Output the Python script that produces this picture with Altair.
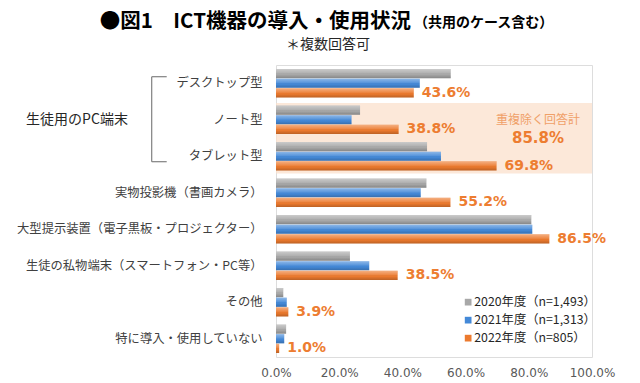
import altair as alt
import pandas as pd

categories = [
    "デスクトップ型",
    "ノート型",
    "タブレット型",
    "実物投影機（書画カメラ）",
    "大型提示装置（電子黒板・プロジェクター）",
    "生徒の私物端末（スマートフォン・PC等）",
    "その他",
    "特に導入・使用していない",
]
series = ["2020年度（n=1,493）", "2021年度（n=1,313）", "2022年度（n=805）"]
v2020 = [55.3, 26.6, 47.8, 47.6, 80.8, 23.4, 2.3, 3.2]
v2021 = [45.5, 23.9, 52.2, 45.8, 81.1, 29.5, 3.4, 2.6]
v2022 = [43.6, 38.8, 69.8, 55.2, 86.5, 38.5, 3.9, 1.0]
colors = ["#a8a8a8", "#4489d8", "#ec7a2e"]
x_ticks = [0, 20, 40, 60, 80, 100]

title_main = "●図1\u3000ICT機器の導入・使用状況"
title_sub = "（共用のケース含む）"
note = "＊複数回答可"
group_label = "生徒用のPC端末"
dedup_label = "重複除く回答計"
dedup_value = "85.8%"

rows = []
for s, vals in zip(series, [v2020, v2021, v2022]):
    for c, v in zip(categories, vals):
        rows.append({"cat": c, "series": s, "value": v, "label": f"{v:.1f}%"})
df = pd.DataFrame(rows)

JP = "Noto Sans CJK JP"
NUM = "DejaVu Sans"

y_enc = alt.Y(
    "cat:N",
    sort=categories,
    scale=alt.Scale(paddingInner=0.22, paddingOuter=0.11),
    axis=alt.Axis(
        title=None, ticks=False, domain=False, labelFont=JP, labelFontSize=12.3,
        labelColor="#404040", labelPadding=14, labelLimit=300,
    ),
)
yoff_enc = alt.YOffset("series:N", sort=series, scale=alt.Scale(paddingInner=0.05))
x_enc = alt.X(
    "value:Q",
    scale=alt.Scale(domain=[0, 100], nice=False),
    axis=alt.Axis(
        title=None, values=x_ticks, ticks=False, domain=False,
        labelExpr="format(datum.value, '.1f') + '%'",
        labelFont=NUM, labelFontSize=12, labelColor="#595959", labelPadding=10,
        labelOverlap=False, labelFlush=False, labelBound=False,
        gridColor="#d9d9d9", gridWidth=1,
    ),
)

box = alt.Chart(pd.DataFrame({"a": [0]})).mark_rect(
    color="#fbe0cc", opacity=0.75
).encode(
    x=alt.datum(0), x2=alt.datum(100), y=alt.value(38), y2=alt.value(108.5)
)

bars = alt.Chart(df).mark_bar().encode(
    x=x_enc,
    y=y_enc,
    yOffset=yoff_enc,
    color=alt.Color(
        "series:N",
        sort=series,
        scale=alt.Scale(domain=series, range=colors),
        legend=alt.Legend(
            title=None, orient="none", legendX=186, legendY=231,
            symbolType="square", symbolSize=45, symbolStrokeWidth=0,
            labelFont=JP, labelFontSize=12.3, labelColor="#262626",
            labelOffset=0, rowPadding=5, padding=0,
        ),
    ),
)

sheen = alt.Gradient(
    gradient="linear",
    stops=[
        alt.GradientStop(color="rgba(255,255,255,0.4)", offset=0),
        alt.GradientStop(color="rgba(255,255,255,0.1)", offset=0.45),
        alt.GradientStop(color="rgba(0,0,0,0.0)", offset=0.6),
        alt.GradientStop(color="rgba(0,0,0,0.2)", offset=1),
    ],
    x1=0, x2=0, y1=0, y2=1,
)
bars_sheen = alt.Chart(df).mark_bar(fill=sheen).encode(
    x="value:Q", y=alt.Y("cat:N", sort=categories), yOffset=yoff_enc
)

labels = alt.Chart(df[df["series"] == series[2]]).mark_text(
    align="left", baseline="middle", dx=8, font=NUM, fontSize=14,
    fontWeight="bold", color="#ed7d31",
).encode(
    x="value:Q", y=alt.Y("cat:N", sort=categories), yOffset=yoff_enc, text="label:N"
)

one = pd.DataFrame({"a": [0]})

def txt(text, x, y, size, weight="normal", color="#262626", align="center", font=JP):
    return alt.Chart(one).mark_text(
        text=text, align=align, baseline="middle", font=font, fontSize=size,
        fontWeight=weight, color=color,
    ).encode(x=alt.value(x), y=alt.value(y))

t1 = txt(title_main, 135, -43, 20.5, "bold", "#000000", "right")
t2 = txt(title_sub, 138, -42, 14, "bold", "#000000", "left")
t3 = txt(note, 52, -20, 14, "normal", "#262626")
g1 = txt(group_label, -199, 55, 14, "normal", "#262626")
d1 = txt(dedup_label, 262, 55, 12, "normal", "#f0a068")
d2 = txt(dedup_value, 262, 73, 15, "bold", "#ed7d31", font=NUM)

def rule(x, x2, y, y2):
    return alt.Chart(one).mark_rule(color="#808080", strokeWidth=1.2).encode(
        x=alt.value(x), x2=alt.value(x2), y=alt.value(y), y2=alt.value(y2)
    )

bracket = rule(-124.3, -124.3, 11.7, 96.7) + rule(-124.3, -109.3, 11.7, 11.7) + rule(-124.3, -109.3, 96.7, 96.7)

chart = alt.layer(
    box, bars, bars_sheen, labels, t1, t2, t3, g1, d1, d2, bracket
).properties(
    width=316, height=292,
    autosize=alt.AutoSizeParams(type="none"),
    padding={"left": 268, "top": 57, "right": 40, "bottom": 24},
).configure_view(stroke=None).configure(background="white")

chart.save("out.html", embed_options={"renderer": "svg", "actions": False})
